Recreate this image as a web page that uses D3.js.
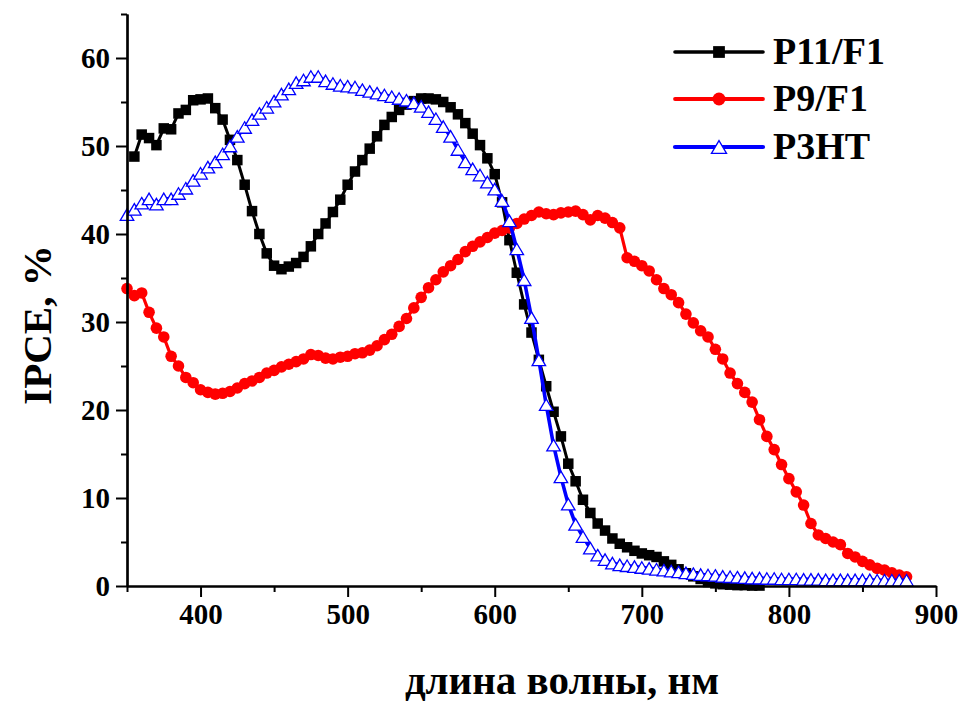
<!DOCTYPE html>
<html>
<head>
<meta charset="utf-8">
<script src="https://cdn.jsdelivr.net/npm/d3@7"></script>
<style>
  html, body { margin: 0; padding: 0; background: #fff; }
  svg text { font-family: "Liberation Serif", "Times New Roman", serif; font-weight: bold; fill: #000; }
</style>
</head>
<body>
<svg id="chart" width="963" height="705"></svg>
<script>
// Wavelength grid, nm (5 nm step)
const wavelengths = [350,355,360,365,370,375,380,385,390,395,400,405,410,415,420,425,430,435,440,445,
  450,455,460,465,470,475,480,485,490,495,500,505,510,515,520,525,530,535,540,545,
  550,555,560,565,570,575,580,585,590,595,600,605,610,615,620,625,630,635,640,645,
  650,655,660,665,670,675,680,685,690,695,700,705,710,715,720,725,730,735,740,745,
  750,755,760,765,770,775,780,785,790,795,800,805,810,815,820,825,830,835,840,845,
  850,855,860,865,870,875,880];

// P11/F1, IPCE %, 355–780 nm
const p11f1 = [48.8,51.3,50.9,50.1,52.0,51.9,53.7,54.1,55.2,55.3,55.4,54.3,53.0,50.7,48.4,45.6,42.6,40.0,37.8,
  36.4,36.0,36.3,36.7,37.4,38.6,40.0,41.2,42.5,43.9,45.6,47.1,48.4,49.7,51.1,52.4,53.3,54.1,54.7,55.1,
  55.4,55.4,55.3,55.0,54.4,53.6,52.6,51.4,50.1,48.6,46.8,43.6,39.3,35.6,32.0,28.8,25.7,22.7,19.8,17.0,
  13.9,11.9,9.8,8.3,7.1,6.3,5.4,4.8,4.4,4.0,3.7,3.5,3.3,2.8,2.4,1.9,1.45,1.1,0.8,0.45,
  0.3,0.2,0.15,0.1,0.1,0.05,0.05];

// P9/F1, IPCE %, 350–880 nm
const p9f1 = [33.8,33.0,33.3,31.1,29.3,28.3,26.1,25.0,23.7,23.1,22.3,22.0,21.8,21.9,22.1,22.5,23.0,23.3,23.7,24.2,
  24.5,24.9,25.2,25.5,25.8,26.3,26.2,25.9,25.8,26.0,26.1,26.4,26.5,26.8,27.3,28.0,28.6,29.5,30.4,31.6,
  32.8,33.9,34.8,35.7,36.4,37.1,38.0,38.6,39.1,39.6,40.1,40.4,40.7,41.2,41.7,42.1,42.5,42.3,42.2,42.4,
  42.5,42.6,42.2,41.6,42.1,41.8,41.3,40.7,37.3,36.9,36.4,35.8,34.8,33.8,33.1,32.2,30.9,29.9,29.0,28.3,
  26.9,25.8,24.2,23.0,22.0,20.9,18.9,17.0,15.5,13.8,12.2,10.7,9.2,7.1,5.8,5.4,5.0,4.7,3.7,3.3,
  2.8,2.4,2.0,1.8,1.5,1.25,1.05];

// P3HT, IPCE %, 350–880 nm
const p3ht = [42.2,42.8,43.5,44.0,43.4,44.0,44.0,44.6,45.2,46.1,46.9,47.6,48.2,49.1,50.0,51.1,52.1,53.0,53.7,54.4,
  55.1,55.9,56.5,57.2,57.5,57.9,57.9,57.4,57.1,56.9,56.8,56.7,56.4,56.2,56.0,55.8,55.6,55.4,55.2,54.9,
  54.5,53.9,53.1,52.2,51.1,49.6,48.2,47.4,46.7,45.9,45.1,43.8,41.5,38.3,34.8,30.5,25.7,20.6,16.0,12.4,
  9.3,7.0,5.6,4.3,3.5,3.0,2.6,2.4,2.3,2.2,2.1,2.0,1.9,1.8,1.7,1.6,1.5,1.4,1.3,1.25,
  1.2,1.1,1.05,1.0,0.95,0.9,0.9,0.85,0.85,0.8,0.8,0.8,0.75,0.75,0.75,0.7,0.7,0.7,0.7,0.7,
  0.7,0.7,0.65,0.65,0.65,0.65,0.65];

const xMajorTicks = [400, 500, 600, 700, 800, 900];
const xMinorTicks = [350, 450, 550, 650, 750, 850];
const yMajorTicks = [0, 10, 20, 30, 40, 50, 60];
const yMinorTicks = [5, 15, 25, 35, 45, 55, 65];

const seriesNames = ["P11/F1", "P9/F1", "P3HT"];
const xTitle = "длина волны, нм";
const yTitle = "IPCE, %";

const svg = d3.select("#chart");
const x = d3.scaleLinear().domain([350, 900]).range([127, 936]);
const y = d3.scaleLinear().domain([0, 65]).range([586, 14]);

// P11/F1 starts one step later (355 nm)
const series = [
  { name: seriesNames[0], xs: wavelengths.slice(1, 1 + p11f1.length), ys: p11f1, color: "#000", width: 3, marker: "square" },
  { name: seriesNames[1], xs: wavelengths.slice(0, p9f1.length), ys: p9f1, color: "#ff0000", width: 3.2, marker: "circle" },
  { name: seriesNames[2], xs: wavelengths.slice(0, p3ht.length), ys: p3ht, color: "#0000ff", width: 3.6, marker: "triangle" }
];

const line = d3.line().x(d => x(d[0])).y(d => y(d[1]));

function drawMarker(g, kind, color, cx, cy, scale) {
  const s = scale || 1;
  if (kind === "square") {
    const a = 10.5 * s;
    g.append("rect").attr("x", cx - a / 2).attr("y", cy - a / 2).attr("width", a).attr("height", a).attr("fill", color);
  } else if (kind === "circle") {
    g.append("circle").attr("cx", cx).attr("cy", cy).attr("r", 5.8 * s).attr("fill", color);
  } else {
    const w = 13.5 * s, h = 11.5 * s;
    g.append("path")
      .attr("d", `M${cx},${cy - h / 2}L${cx + w / 2},${cy + h / 2}L${cx - w / 2},${cy + h / 2}Z`)
      .attr("fill", "#fff").attr("stroke", color).attr("stroke-width", 1.3);
  }
}

series.forEach(s => {
  const pts = s.xs.map((w, i) => [w, s.ys[i]]);
  const g = svg.append("g");
  g.append("path").datum(pts).attr("d", line)
    .attr("fill", "none").attr("stroke", s.color).attr("stroke-width", s.width).attr("stroke-linejoin", "round");
  pts.forEach(p => drawMarker(g, s.marker, s.color, x(p[0]), y(p[1])));
});

// Axes
const axisG = svg.append("g");
const xAxis = axisG.append("g").attr("transform", `translate(0,${y(0)})`)
  .call(d3.axisBottom(x).tickValues(xMajorTicks).tickSize(11).tickPadding(6).tickSizeOuter(0));
axisG.append("g").attr("transform", `translate(0,${y(0)})`)
  .call(d3.axisBottom(x).tickValues(xMinorTicks).tickSize(6).tickFormat("").tickSizeOuter(0));
axisG.append("g").attr("transform", `translate(${x(350)},0)`)
  .call(d3.axisLeft(y).tickValues(yMajorTicks).tickSize(11).tickPadding(6).tickSizeOuter(0));
axisG.append("g").attr("transform", `translate(${x(350)},0)`)
  .call(d3.axisLeft(y).tickValues(yMinorTicks).tickSize(6).tickFormat("").tickSizeOuter(0));

axisG.selectAll(".domain").attr("stroke", "#000").attr("stroke-width", 2.2);
axisG.selectAll(".tick line").attr("stroke", "#000").attr("stroke-width", 2);
axisG.selectAll(".tick text")
  .style("font-family", '"Liberation Serif", "Times New Roman", serif')
  .style("font-weight", "bold").style("font-size", "29px").attr("fill", "#000");
xAxis.selectAll(".tick text").attr("dy", "0.71em");

// Axis titles
svg.append("text").attr("x", 562).attr("y", 694).attr("text-anchor", "middle")
  .style("font-size", "41px").text(xTitle);
svg.append("text").attr("transform", "translate(51,325) rotate(-90)").attr("text-anchor", "middle")
  .style("font-size", "41px").text(yTitle);

// Legend
const legend = svg.append("g");
const legendRows = [52, 99, 147];
series.forEach((s, i) => {
  const ly = legendRows[i];
  legend.append("line").attr("x1", 675).attr("x2", 763).attr("y1", ly).attr("y2", ly)
    .attr("stroke", s.color).attr("stroke-width", s.width + 0.6).attr("stroke-linecap", "round");
  drawMarker(legend, s.marker, s.color, 719, ly, 1.12);
  legend.append("text").attr("x", 773).attr("y", ly + 12).style("font-size", "38px").text(s.name);
});
</script>
</body>
</html>
